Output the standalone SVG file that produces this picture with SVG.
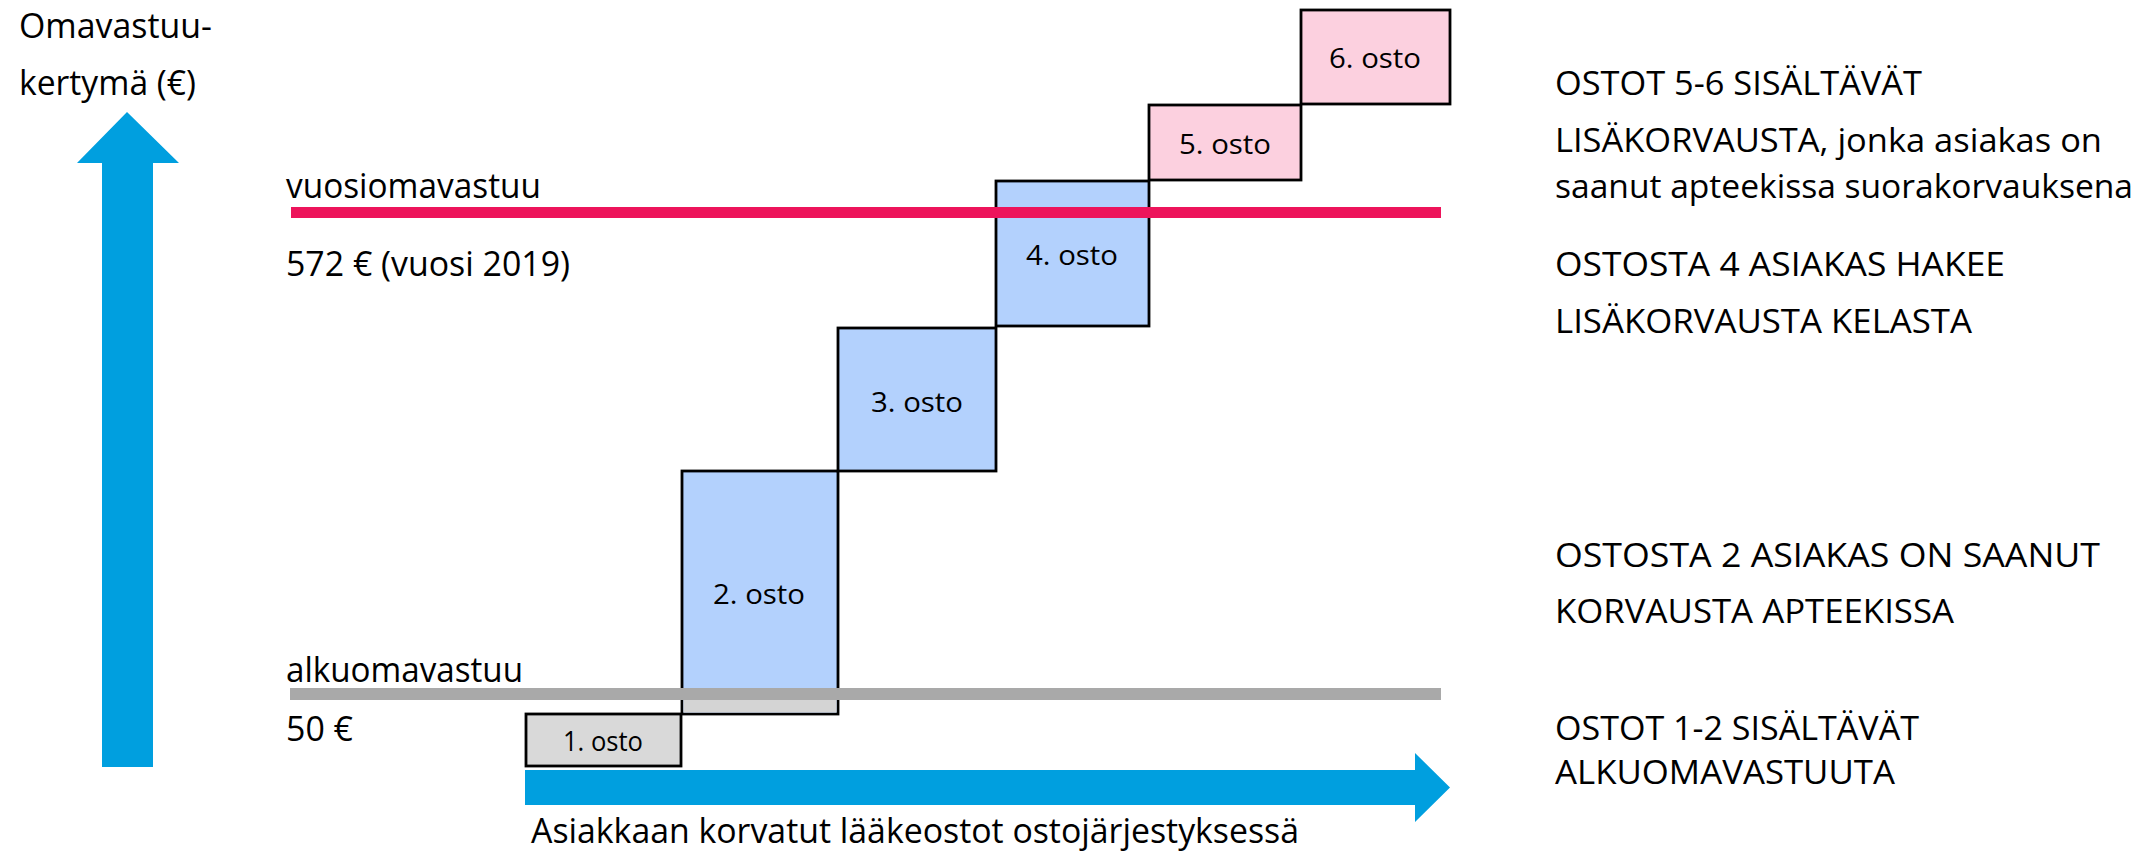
<svg xmlns="http://www.w3.org/2000/svg" width="2154" height="852" viewBox="0 0 2154 852">
<style>
text{font-family:"Open Sans","Noto Sans","Liberation Sans",sans-serif;fill:#000}
.lt{font-size:35px}
.rt{font-size:33px}
.bl{font-size:27px;text-anchor:middle}
.box{stroke:#000;stroke-width:2.8}
.blue{fill:#b3d1fd}
.pink{fill:#fcd0df}
.grey{fill:#d9d9d9}
.arrow{fill:#009fdf}
</style>
<rect width="2154" height="852" fill="#fff"/>
<g id="boxes">
<g id="osto1"><rect class="box grey" x="526" y="714" width="155" height="52"/><text class="bl" x="603" y="751" textLength="80" lengthAdjust="spacingAndGlyphs">1. osto</text></g>
<g id="osto2"><rect class="box blue" x="682" y="471" width="156" height="243"/><rect x="683.4" y="699" width="153.2" height="13.6" fill="#d4d4d4"/><text class="bl" x="759" y="604" textLength="92" lengthAdjust="spacingAndGlyphs">2. osto</text></g>
<g id="osto3"><rect class="box blue" x="838" y="328" width="158" height="143"/><text class="bl" x="917" y="412" textLength="92" lengthAdjust="spacingAndGlyphs">3. osto</text></g>
<g id="osto4"><rect class="box blue" x="996" y="181" width="153" height="145"/><text class="bl" x="1072" y="265" textLength="92" lengthAdjust="spacingAndGlyphs">4. osto</text></g>
<g id="osto5"><rect class="box pink" x="1149" y="105" width="152" height="75" stroke="#14264a"/><text class="bl" x="1225" y="154" textLength="92" lengthAdjust="spacingAndGlyphs">5. osto</text></g>
<g id="osto6"><rect class="box pink" x="1301" y="10" width="149" height="94"/><text class="bl" x="1375" y="68" textLength="92" lengthAdjust="spacingAndGlyphs">6. osto</text></g>
</g>
<g id="thresholds">
<rect x="291" y="207" width="1150" height="11" fill="#ed145b"/>
<rect x="290" y="688" width="1151" height="12" fill="#a9a9a9"/>
</g>
<g id="connectors">
<polygon class="arrow" points="127,112 179,163 153,163 153,767 102,767 102,163 77,163"/>
<polygon class="arrow" points="525,770 1415,770 1415,753 1450,787.5 1415,822 1415,805 525,805"/>
</g>
<g id="labels">
<text class="lt" x="19" y="38" textLength="193" lengthAdjust="spacingAndGlyphs">Omavastuu-</text>
<text class="lt" x="19" y="95" textLength="177" lengthAdjust="spacingAndGlyphs">kertymä (€)</text>
<text class="lt" x="286" y="198" textLength="255" lengthAdjust="spacingAndGlyphs">vuosiomavastuu</text>
<text class="lt" x="286" y="276" textLength="284" lengthAdjust="spacingAndGlyphs">572 € (vuosi 2019)</text>
<text class="lt" x="286" y="682" textLength="237" lengthAdjust="spacingAndGlyphs">alkuomavastuu</text>
<text class="lt" x="286" y="741" textLength="67" lengthAdjust="spacingAndGlyphs">50 €</text>
<text class="lt" x="531" y="843" textLength="768" lengthAdjust="spacingAndGlyphs">Asiakkaan korvatut lääkeostot ostojärjestyksessä</text>
<text class="rt" x="1555" y="95" textLength="367" lengthAdjust="spacingAndGlyphs">OSTOT 5-6 SISÄLTÄVÄT</text>
<text class="rt" x="1555" y="152" textLength="547" lengthAdjust="spacingAndGlyphs">LISÄKORVAUSTA, jonka asiakas on</text>
<text class="rt" x="1555" y="198" textLength="578" lengthAdjust="spacingAndGlyphs">saanut apteekissa suorakorvauksena</text>
<text class="rt" x="1555" y="276" textLength="450" lengthAdjust="spacingAndGlyphs">OSTOSTA 4 ASIAKAS HAKEE</text>
<text class="rt" x="1555" y="333" textLength="417" lengthAdjust="spacingAndGlyphs">LISÄKORVAUSTA KELASTA</text>
<text class="rt" x="1555" y="567" textLength="545" lengthAdjust="spacingAndGlyphs">OSTOSTA 2 ASIAKAS ON SAANUT</text>
<text class="rt" x="1555" y="623" textLength="399" lengthAdjust="spacingAndGlyphs">KORVAUSTA APTEEKISSA</text>
<text class="rt" x="1555" y="740" textLength="364" lengthAdjust="spacingAndGlyphs">OSTOT 1-2 SISÄLTÄVÄT</text>
<text class="rt" x="1555" y="784" textLength="340" lengthAdjust="spacingAndGlyphs">ALKUOMAVASTUUTA</text>
</g>
</svg>
